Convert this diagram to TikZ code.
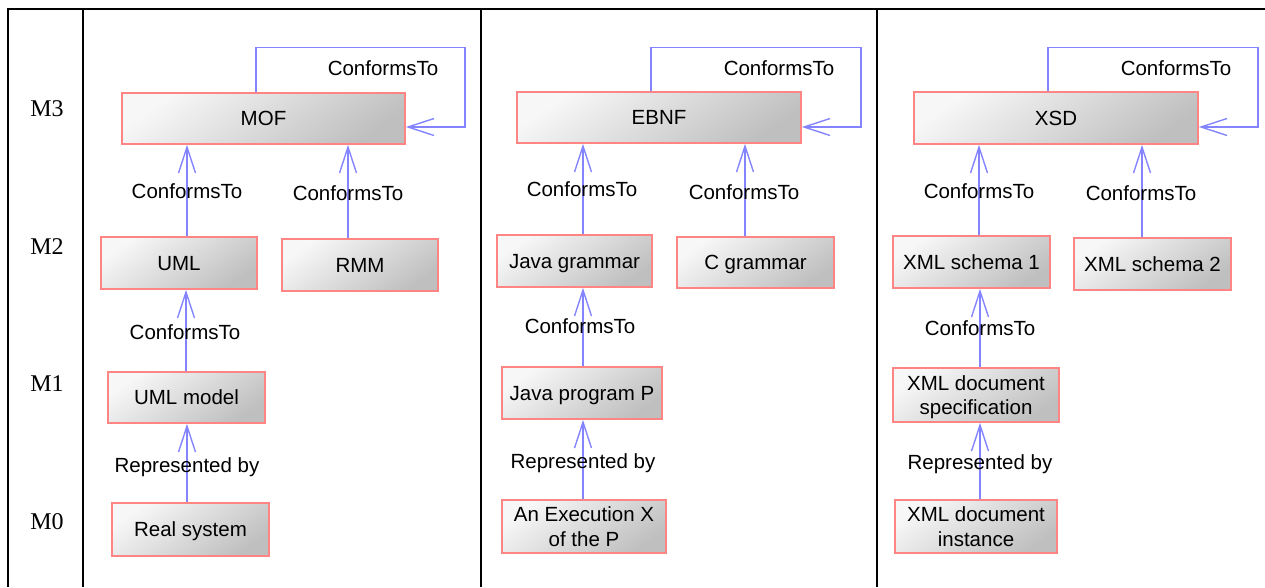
\documentclass[tikz,border=0pt]{standalone}
\usepackage{fontspec}
\setmainfont{Liberation Sans}
\newfontfamily\serifm{Liberation Serif}
\usetikzlibrary{arrows.meta,calc}
\definecolor{boxred}{HTML}{FF8585}
\definecolor{connblue}{HTML}{8484FF}
\begin{document}
\begin{tikzpicture}[x=1pt,y=-1pt,
  box/.style={draw=boxred, line width=1.6pt, top color=black!3, bottom color=black!25, shading angle=35,
    font=\fontsize{20.5}{24.5}\selectfont, align=center, inner sep=0pt, text depth=0pt},
  conn/.style={draw=connblue, line width=1.4pt, -{Straight Barb[length=26pt,width=17pt,line width=1.4pt]}},
  lbl/.style={font=\fontsize{20.5}{24}\selectfont, inner sep=0pt, text depth=0pt},
  lev/.style={font=\serifm\fontsize{24}{28}\selectfont, inner sep=0pt},
  frame/.style={line width=2pt, draw=black}]
\useasboundingbox (0,0) rectangle (1265,587);

% frame
\draw[frame] (8,587) -- (8,9) -- (1265,9);
\draw[frame] (83,9) -- (83,587);
\draw[frame] (481,9) -- (481,587);
\draw[frame] (877,9) -- (877,587);

% level labels
\node[lev] (m3) at (47,109) {M3};
\node[lev] (m2) at (47,247) {M2};
\node[lev] (m1) at (47,384) {M1};
\node[lev] (m0) at (47,522) {M0};

% ---------- column 1 ----------
\node[box, minimum width=283pt, minimum height=51pt] (mof) at (263.5,118.5) {MOF};
\node[box, minimum width=156pt, minimum height=52pt] (uml) at (179,263) {UML};
\node[box, minimum width=156pt, minimum height=52pt] (rmm) at (360,265) {RMM};
\node[box, minimum width=157pt, minimum height=51pt] (umlm) at (186.5,397.5) {UML model};
\node[box, minimum width=157pt, minimum height=53pt] (real) at (190.5,529.5) {Real system};

\draw[conn] ([xshift=-7.5pt]mof.north) |- ($(mof.north east)+(59,-45)$) |- ([yshift=-8.5pt]mof.east);
\draw[conn] ([xshift=8pt]uml.north) -- ([xshift=8pt]uml.north |- mof.south);
\draw[conn] ([xshift=-12pt]rmm.north) -- ([xshift=-12pt]rmm.north |- mof.south);
\draw[conn] ([xshift=-0.5pt]umlm.north) -- ([xshift=-0.5pt]umlm.north |- uml.south);
\draw[conn] ([xshift=-3.5pt]real.north) -- ([xshift=-3.5pt]real.north |- umlm.south);

\node[lbl] (l1a) at (383,68) {ConformsTo};
\node[lbl] (l1b) at (187,191) {ConformsTo};
\node[lbl] (l1c) at (348,193) {ConformsTo};
\node[lbl] (l1d) at (185,332) {ConformsTo};
\node[lbl] (l1e) at (187,465) {Represented by};

% ---------- column 2 ----------
\node[box, minimum width=284pt, minimum height=51pt] (ebnf) at (659,117.5) {EBNF};
\node[box, minimum width=155pt, minimum height=52pt] (jg) at (574.5,261) {Java grammar};
\node[box, minimum width=157pt, minimum height=51pt] (cg) at (755.5,262.5) {C grammar};
\node[box, minimum width=160pt, minimum height=52pt] (jp) at (582,393) {Java program P};
\node[box, minimum width=164pt, minimum height=53pt] (ex) at (584,526.5) {An Execution X\\of the P};

\draw[conn] ([xshift=-8pt]ebnf.north) |- ($(ebnf.north east)+(59,-44)$) |- ([yshift=-9.5pt]ebnf.east);
\draw[conn] ([xshift=8.5pt]jg.north) -- ([xshift=8.5pt]jg.north |- ebnf.south);
\draw[conn] ([xshift=-10.5pt]cg.north) -- ([xshift=-10.5pt]cg.north |- ebnf.south);
\draw[conn] ([xshift=1pt]jp.north) -- ([xshift=1pt]jp.north |- jg.south);
\draw[conn] ([xshift=-1pt]ex.north) -- ([xshift=-1pt]ex.north |- jp.south);

\node[lbl] (l2a) at (779,68) {ConformsTo};
\node[lbl] (l2b) at (582,189) {ConformsTo};
\node[lbl] (l2c) at (744,192) {ConformsTo};
\node[lbl] (l2d) at (580,326) {ConformsTo};
\node[lbl] (l2e) at (583,461) {Represented by};

% ---------- column 3 ----------
\node[box, minimum width=284pt, minimum height=52pt] (xsd) at (1056,118) {XSD};
\node[box, minimum width=157pt, minimum height=52pt] (xs1) at (971.5,262) {XML schema 1};
\node[box, minimum width=157pt, minimum height=52pt] (xs2) at (1152.5,264) {XML schema 2};
\node[box, minimum width=166pt, minimum height=54pt] (spec) at (976,395) {XML document\\specification};
\node[box, minimum width=162pt, minimum height=53pt] (inst) at (976,526.5) {XML document\\instance};

\draw[conn] ([xshift=-8pt]xsd.north) |- ($(xsd.north east)+(59,-44)$) |- ([yshift=-9pt]xsd.east);
\draw[conn] ([xshift=7.5pt]xs1.north) -- ([xshift=7.5pt]xs1.north |- xsd.south);
\draw[conn] ([xshift=-10.5pt]xs2.north) -- ([xshift=-10.5pt]xs2.north |- xsd.south);
\draw[conn] ([xshift=4pt]spec.north) -- ([xshift=4pt]spec.north |- xs1.south);
\draw[conn] ([xshift=4pt]inst.north) -- ([xshift=4pt]inst.north |- spec.south);

\node[lbl] (l3a) at (1176,68) {ConformsTo};
\node[lbl] (l3b) at (979,191) {ConformsTo};
\node[lbl] (l3c) at (1141,193) {ConformsTo};
\node[lbl] (l3d) at (980,328) {ConformsTo};
\node[lbl] (l3e) at (980,462) {Represented by};
\end{tikzpicture}
\end{document}
